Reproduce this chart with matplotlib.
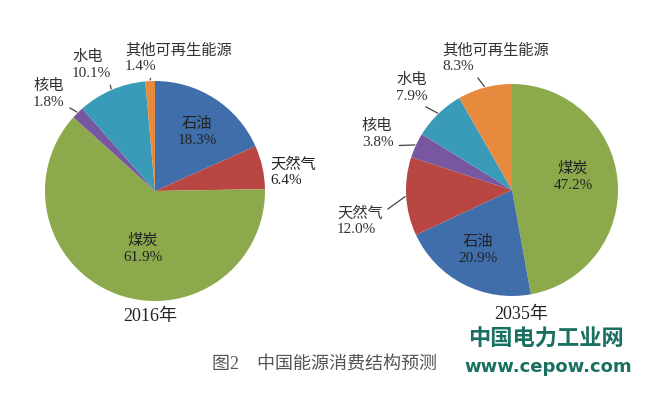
import numpy as np
import matplotlib
matplotlib.use("Agg")
import matplotlib.pyplot as plt

plt.rcParams['font.family'] = ['Liberation Serif', 'Noto Sans CJK SC', 'DejaVu Sans']

# data
labels_2016 = ['石油', '天然气', '煤炭', '核电', '水电', '其他可再生能源']
share_2016 = [18.3, 6.4, 61.9, 1.8, 10.1, 1.4]
labels_2035 = ['煤炭', '石油', '天然气', '核电', '水电', '其他可再生能源']
share_2035 = [47.2, 20.9, 12.0, 3.8, 7.9, 8.3]

colours = {'石油': '#3f6eaa', '天然气': '#b84744', '煤炭': '#8caa4b',
           '核电': '#7657a0', '水电': '#3a9bb8', '其他可再生能源': '#e88a3d'}

W, H = 649, 395
fig = plt.figure(figsize=(W / 100, H / 100), dpi=100)
ax = fig.add_axes([0, 0, 1, 1])
ax.set_xlim(0, W)
ax.set_ylim(0, H)
ax.set_aspect('equal')
ax.axis('off')

def Y(y):
    # pixel row -> data y
    return H - y

# label layout: (x, y in pixels, ha, leader?)
lay_2016 = {'石油': (197, 132, 'center', False),
            '天然气': (270, 172, 'left', False),
            '煤炭': (143, 249, 'center', False),
            '核电': (33, 94, 'left', True),
            '水电': (72, 65, 'left', True),
            '其他可再生能源': (125, 58, 'left', True)}
lay_2035 = {'煤炭': (573, 177, 'center', False),
            '石油': (478, 250, 'center', False),
            '天然气': (337, 221, 'left', True),
            '核电': (362, 134, 'left', True),
            '水电': (396, 88, 'left', True),
            '其他可再生能源': (442, 58, 'left', True)}
# where the leader leaves the text (relpos on text box)
rel_2016 = {'核电': (1.05, 0.1), '水电': (0.95, -0.05), '其他可再生能源': (0.25, -0.05)}
rel_2035 = {'天然气': (0.95, 0.72), '核电': (0.85, 0.1), '水电': (0.7, 0.0),
            '其他可再生能源': (0.3, 0.0)}

def draw_pie(labels, vals, cx, cy, r, lay, rel):
    wedges, _ = ax.pie(vals, colors=[colours[l] for l in labels], startangle=90,
                       counterclock=False, center=(cx, Y(cy)), radius=r,
                       wedgeprops=dict(linewidth=0), frame=True)
    for w, lab, v in zip(wedges, labels, vals):
        tx, ty, ha, lead = lay[lab]
        s = lab + '\n' + ('%.1f%%' % v)
        if lead:
            mid = np.deg2rad((w.theta1 + w.theta2) / 2)
            ex = cx + r * 1.01 * np.cos(mid)
            ey = Y(cy) + r * 1.01 * np.sin(mid)
            ax.annotate(s, xy=(ex, ey), xytext=(tx, Y(ty)), ha=ha, va='center',
                        fontsize=11, color='#333333', linespacing=1.25,
                        arrowprops=dict(arrowstyle='-', color='#444444', lw=0.9,
                                        relpos=rel[lab], shrinkA=2, shrinkB=0))
        else:
            ax.text(tx, Y(ty), s, ha=ha, va='center', fontsize=11,
                    color='#222222', linespacing=1.25)

draw_pie(labels_2016, share_2016, 155, 191, 110, lay_2016, rel_2016)
draw_pie(labels_2035, share_2035, 512, 190, 106, lay_2035, rel_2035)

ax.set_xlim(0, W)
ax.set_ylim(0, H)
ax.axis('off')

ax.text(150, Y(317), '2016年', ha='center', va='center', fontsize=13, color='#222222')
ax.text(521, Y(315), '2035年', ha='center', va='center', fontsize=13, color='#222222')
ax.text(212, Y(365), '图2    中国能源消费结构预测', ha='left', va='center',
        fontsize=13, color='#555555')

ax.text(546, Y(339), '中国电力工业网', ha='center', va='center', fontsize=16,
        fontweight='bold', color='#1a7060', family=['Noto Sans CJK SC'])
ax.text(548, Y(367), 'www.cepow.com', ha='center', va='center', fontsize=13,
        fontweight='bold', color='#1a7060', family=['DejaVu Sans'])

fig.savefig('out.png', dpi=100)
